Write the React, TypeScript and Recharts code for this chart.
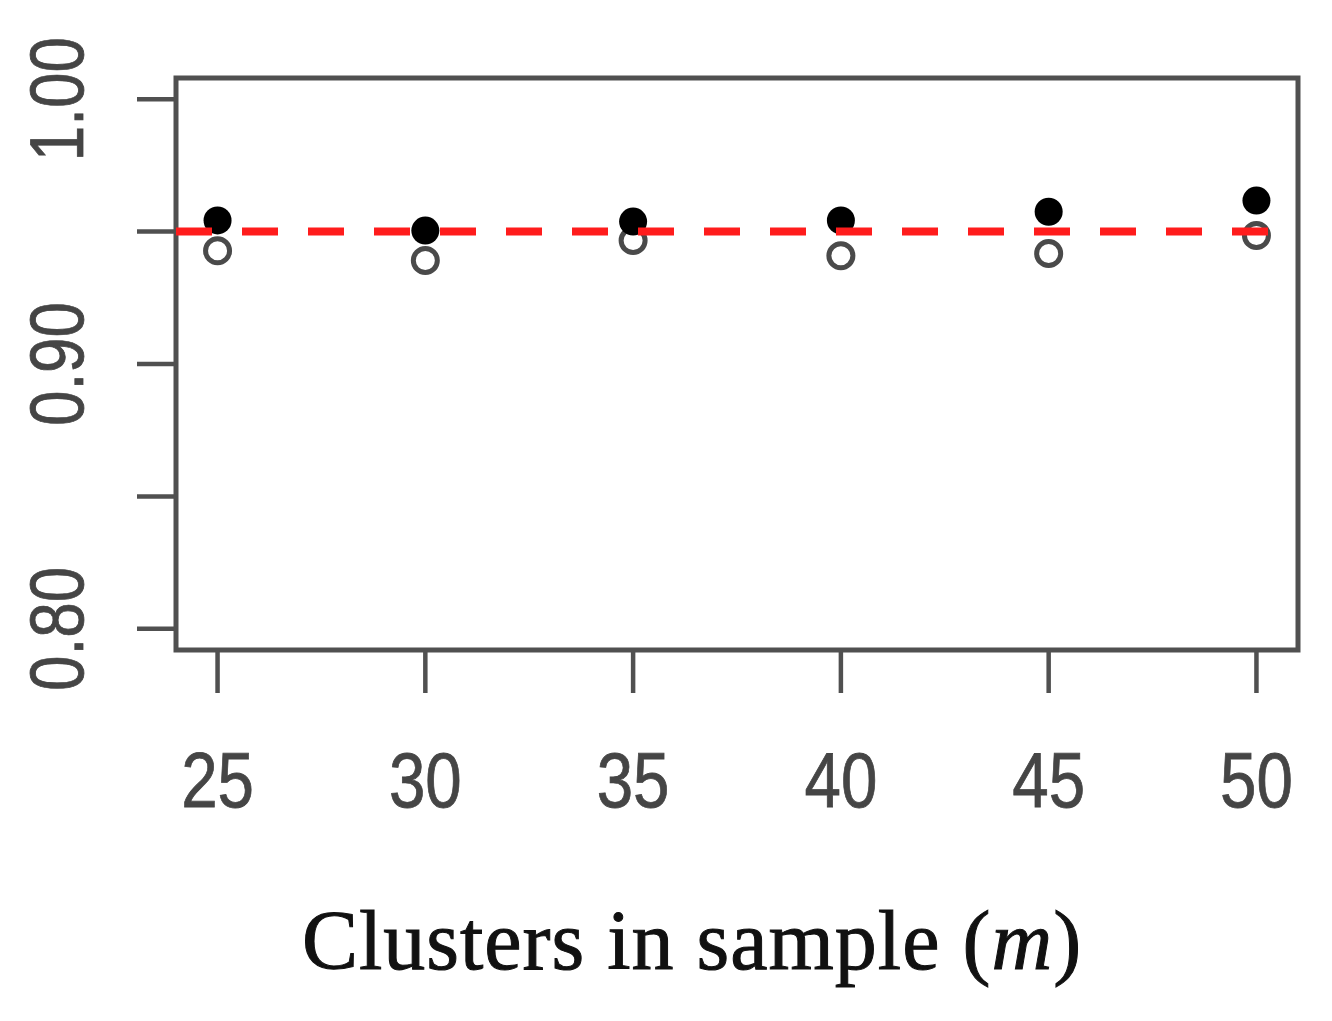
import { ScatterChart, Scatter, XAxis, YAxis, ReferenceArea } from 'recharts';

// cluster counts on the x axis
const clusterCounts = [25, 30, 35, 40, 45, 50];
// filled points
const filledCoverage = [0.9542, 0.9504, 0.9538, 0.9542, 0.9575, 0.9617];
// open points
const openCoverage = [0.9428, 0.9391, 0.9466, 0.9409, 0.9417, 0.9485];
// nominal level (red dashed line)
const nominalLevel = 0.95;

const xTicks = [25, 30, 35, 40, 45, 50];
const yTicks = [0.8, 0.85, 0.9, 0.95, 1.0];
const yLabelled = ['0.80', '0.90', '1.00'];
const xDomain = [24, 51];
const yDomain = [0.792, 1.008];

const filledData = clusterCounts.map((m, i) => ({ m, value: filledCoverage[i] }));
const openData = clusterCounts.map((m, i) => ({ m, value: openCoverage[i] }));
const nominalData = xDomain.map(m => ({ m, value: nominalLevel }));

const axisGrey = '#505050';
const labelGrey = '#454545';
const tickFont = '"Liberation Sans", Arial, sans-serif';

const XTick = (props: any) => {
  const { x, y, payload } = props;
  return (
    <g transform={`translate(${x},${y + 114})`}>
      <text
        transform="scale(0.84,1)"
        textAnchor="middle"
        fontSize={78}
        fontFamily={tickFont}
        fill={labelGrey}
        stroke={labelGrey}
        strokeWidth={0.8}
      >
        {payload.value}
      </text>
    </g>
  );
};

const YTick = (props: any) => {
  const { x, y, payload } = props;
  const label = payload.value.toFixed(2);
  if (!yLabelled.includes(label)) return <g />;
  return (
    <g transform={`translate(${x - 54},${y}) rotate(-90)`}>
      <text
        transform="scale(0.84,1)"
        textAnchor="middle"
        fontSize={76}
        fontFamily={tickFont}
        fill={labelGrey}
        stroke={labelGrey}
        strokeWidth={0.8}
      >
        {label}
      </text>
    </g>
  );
};

const FilledDot = (props: any) => <circle cx={props.cx} cy={props.cy} r={14} fill="#000" />;
const OpenDot = (props: any) => (
  <circle cx={props.cx} cy={props.cy} r={12} fill="#fff" stroke="#4a4a4a" strokeWidth={5} />
);
const NoDot = () => <g />;

export default function App() {
  return (
    <div style={{ position: 'absolute', left: 0, top: 0, width: 1332, height: 1021, background: '#fff' }}>
      <ScatterChart width={1332} height={1021} margin={{ top: 78, right: 34, bottom: 221, left: 0 }}>
        <XAxis
          type="number"
          dataKey="m"
          domain={xDomain}
          ticks={xTicks}
          height={150}
          axisLine={false}
          tickSize={43}
          tickMargin={0}
          tickLine={{ stroke: axisGrey, strokeWidth: 4.5 }}
          tick={<XTick />}
          allowDataOverflow
        />
        <YAxis
          type="number"
          dataKey="value"
          domain={yDomain}
          ticks={yTicks}
          width={176}
          axisLine={false}
          tickSize={39}
          tickMargin={0}
          tickLine={{ stroke: axisGrey, strokeWidth: 4.5 }}
          tick={<YTick />}
          allowDataOverflow
        />
        <ReferenceArea
          x1={xDomain[0]}
          x2={xDomain[1]}
          y1={yDomain[0]}
          y2={yDomain[1]}
          fill="none"
          fillOpacity={0}
          stroke={axisGrey}
          strokeWidth={5}
        />
        <Scatter data={openData} shape={<OpenDot />} isAnimationActive={false} />
        <Scatter data={filledData} shape={<FilledDot />} isAnimationActive={false} />
        <Scatter
          data={nominalData}
          shape={<NoDot />}
          line={{ stroke: '#ff1c1c', strokeWidth: 8, strokeDasharray: '36 30' }}
          isAnimationActive={false}
        />
      </ScatterChart>
      <div
        style={{
          position: 'absolute',
          left: 0,
          top: 901,
          width: 1384,
          textAlign: 'center',
          fontFamily: '"Liberation Serif", serif',
          fontSize: 84,
          lineHeight: '80px',
          letterSpacing: 1,
          color: '#111',
          WebkitTextStroke: '1px #111',
        }}
      >
        Clusters in sample (<i>m</i>)
      </div>
    </div>
  );
}
